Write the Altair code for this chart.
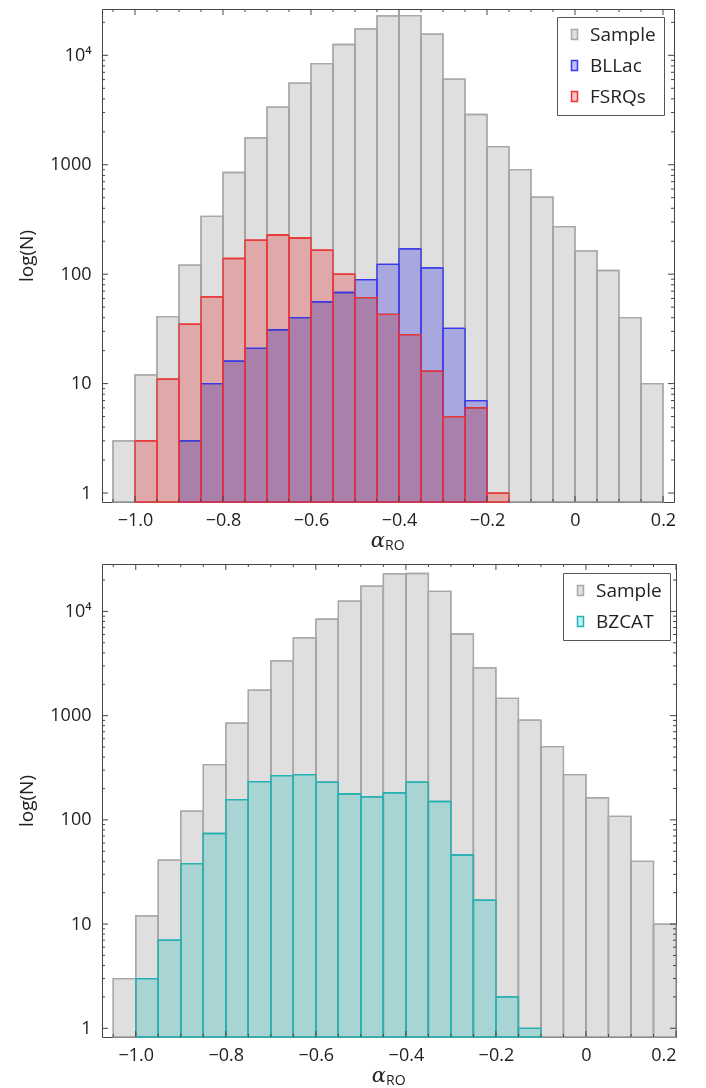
import altair as alt
import pandas as pd

# ---- data (bin width 0.05) ----
bin_lo = [-1.05, -1.0, -0.95, -0.9, -0.85, -0.8, -0.75, -0.7, -0.65, -0.6,
          -0.55, -0.5, -0.45, -0.4, -0.35, -0.3, -0.25, -0.2, -0.15, -0.1,
          -0.05, 0.0, 0.05, 0.1, 0.15]
sample_counts = [3, 12, 41, 121, 338, 849, 1758, 3356, 5560, 8410, 12560, 17430,
                 22900, 23100, 15600, 6070, 2877, 1467, 904, 505, 272, 163, 108, 40, 10]
bllac_lo = bin_lo[3:17]
bllac_counts = [3, 10, 16, 21, 31, 40, 56, 68, 89, 123, 170, 114, 32, 7]
fsrq_lo = bin_lo[1:18]
fsrq_counts = [3, 11, 35, 62, 139, 205, 228, 214, 166, 100, 61, 43, 28, 13, 5, 6, 1]
bzcat_lo = bin_lo[1:19]
bzcat_counts = [3, 7, 38, 74, 156, 233, 266, 272, 230, 177, 166, 182, 230, 150, 46, 17, 2, 1]
bin_width = 0.05

# axis tick values
x_label_ticks = [-1.0, -0.8, -0.6, -0.4, -0.2, 0.0, 0.2]
x_minor_ticks = [-1.05, -0.95, -0.9, -0.85, -0.75, -0.7, -0.65, -0.55, -0.5, -0.45,
                 -0.35, -0.3, -0.25, -0.15, -0.1, -0.05, 0.05, 0.1, 0.15]
y_label_ticks = [1, 10, 100, 1000, 10000]
y_minor_ticks = [2, 3, 4, 5, 6, 7, 8, 9, 20, 30, 40, 50, 60, 70, 80, 90,
                 200, 300, 400, 500, 600, 700, 800, 900,
                 2000, 3000, 4000, 5000, 6000, 7000, 8000, 9000, 20000]

FONT = "Open Sans"


def frame(series):
    rows = []
    for name, los, counts in series:
        for lo, n in zip(los, counts):
            rows.append({"series": name, "lo": lo, "hi": round(lo + bin_width, 3), "n": n})
    return pd.DataFrame(rows)


def panel(series, fills, strokes, W, H, xdom, ydom, leg_x, leg_y):
    df = frame(series)
    names = [s[0] for s in series]
    xscale = alt.Scale(domain=xdom, nice=False, zero=False)
    yscale = alt.Scale(type="log", domain=ydom, nice=False)
    xaxis = alt.Axis(values=x_label_ticks, title=None, labelPadding=9,
                     labelExpr="datum.value == 0 ? '0' : format(datum.value, '.1f')")
    yaxis = alt.Axis(values=y_label_ticks, title="log(N)", labelPadding=11, titlePadding=13,
                     labelExpr="datum.value >= 10000 ? '10\u2074' : format(datum.value, 'd')")
    legend = alt.Legend(title=None, orient="none", legendX=leg_x, legendY=leg_y)
    fscale = alt.Scale(domain=names, range=fills)
    sscale = alt.Scale(domain=names, range=strokes)

    base = alt.Chart(df).encode(
        x=alt.X("lo:Q", scale=xscale, axis=xaxis),
        x2="hi:Q",
        y=alt.Y("n:Q", scale=yscale, axis=yaxis),
        y2=alt.value(H),
    )
    # translucent-looking fills (multiply blend), legend comes from this layer
    fill_layer = base.mark_rect(strokeWidth=1.3, blend="multiply").encode(
        fill=alt.Fill("series:N", scale=fscale, legend=legend),
        stroke=alt.Stroke("series:N", scale=sscale, legend=legend),
    )
    # clean outlines drawn on top
    stroke_layer = base.mark_rect(filled=False, strokeWidth=1.3).encode(
        stroke=alt.Stroke("series:N", scale=sscale, legend=None),
    )

    ymaj = pd.DataFrame({"n": y_label_ticks})
    ymin = pd.DataFrame({"n": y_minor_ticks})
    xmaj = pd.DataFrame({"lo": x_label_ticks})
    xmin = pd.DataFrame({"lo": x_minor_ticks})
    tc = "#444444"
    layers = [fill_layer, stroke_layer]
    for d, L in ((ymaj, 6), (ymin, 3)):
        layers.append(alt.Chart(d).mark_rule(color=tc, strokeWidth=1).encode(
            y=alt.Y("n:Q", scale=yscale, axis=yaxis), x=alt.value(0), x2=alt.value(L)))
        layers.append(alt.Chart(d).mark_rule(color=tc, strokeWidth=1).encode(
            y=alt.Y("n:Q", scale=yscale, axis=yaxis), x=alt.value(W - L), x2=alt.value(W)))
    for d, L in ((xmaj, 6), (xmin, 3)):
        layers.append(alt.Chart(d).mark_rule(color=tc, strokeWidth=1).encode(
            x=alt.X("lo:Q", scale=xscale, axis=xaxis), y=alt.value(H), y2=alt.value(H - L)))
        layers.append(alt.Chart(d).mark_rule(color=tc, strokeWidth=1).encode(
            x=alt.X("lo:Q", scale=xscale, axis=xaxis), y=alt.value(0), y2=alt.value(L)))

    alpha = alt.Chart(pd.DataFrame({"t": ["\u03b1"]})).mark_text(
        font="DejaVu Serif", fontStyle="italic", fontSize=21, align="right", baseline="alphabetic",
        color="#222").encode(text="t:N", x=alt.value(W / 2 - 3), y=alt.value(H + 45))
    sub = alt.Chart(pd.DataFrame({"t": ["RO"]})).mark_text(
        font=FONT, fontSize=14, align="left", baseline="alphabetic",
        color="#222").encode(text="t:N", x=alt.value(W / 2 - 3), y=alt.value(H + 48))
    layers += [alpha, sub]
    return alt.layer(*layers).properties(width=W, height=H)


top = panel(
    [("Sample", bin_lo, sample_counts), ("BLLac", bllac_lo, bllac_counts), ("FSRQs", fsrq_lo, fsrq_counts)],
    fills=["#dfdfdf", "#c0c0ff", "#ffc2c2"],
    strokes=["#a8a8a8", "#3838f0", "#ee3434"],
    W=572, H=493, xdom=[-1.075, 0.225], ydom=[0.828, 26500], leg_x=455, leg_y=8,
)
bottom = panel(
    [("Sample", bin_lo, sample_counts), ("BZCAT", bzcat_lo, bzcat_counts)],
    fills=["#dfdfdf", "#c1f3f3"],
    strokes=["#a8a8a8", "#22b4b4"],
    W=574, H=473, xdom=[-1.075, 0.2], ydom=[0.825, 28500], leg_x=461, leg_y=9,
)

chart = alt.vconcat(top, bottom, spacing=9).resolve_scale(
    x="independent", y="independent", fill="independent", stroke="independent"
).resolve_legend(
    fill="independent", stroke="independent"
).properties(
    padding={"left": 9, "top": 0, "right": 0, "bottom": 0}
).configure_view(
    stroke="#444444", strokeWidth=1
).configure_axis(
    labelFont=FONT, labelFontSize=18, labelColor="#222222", tickSize=0, domain=False,
    grid=False, titleFont=FONT, titleFontSize=19, titleFontWeight="normal", titleColor="#222222"
).configure_legend(
    padding=8, strokeColor="#555555", fillColor="white",
    labelFont=FONT, labelFontSize=19, labelColor="#222222",
    symbolType="M-0.6,-1H0.6V1H-0.6Z", symbolSize=100, symbolStrokeWidth=1.5,
    rowPadding=11, labelOffset=6
)

chart.save("out.html", embed_options={"renderer": "svg", "actions": False})
